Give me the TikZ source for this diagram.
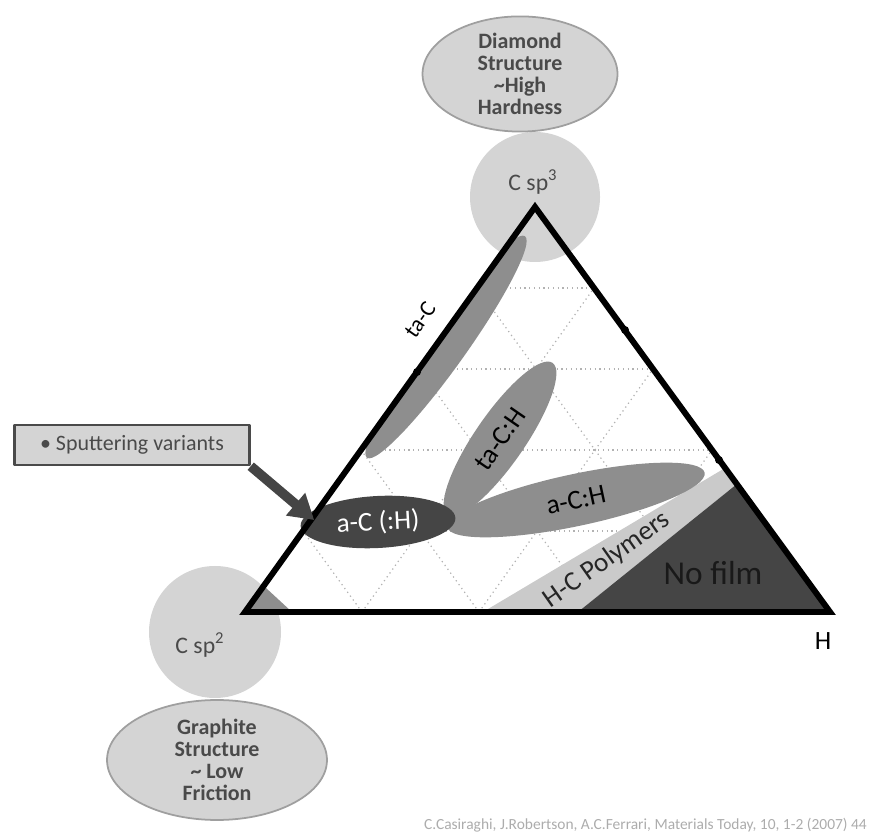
\documentclass[tikz,border=0pt]{standalone}
\usepackage{fontspec}
\setmainfont{Carlito}
\usetikzlibrary{calc,shapes.geometric,arrows.meta}
\definecolor{blobgray}{HTML}{8E8E8E}
\definecolor{lightblob}{HTML}{D4D4D4}
\definecolor{darkblob}{HTML}{454545}
\definecolor{polygray}{HTML}{CACACA}
\definecolor{labelgray}{HTML}{4A4A4A}
\tikzset{
  structure/.style={ellipse, fill=lightblob, draw=gray!75, line width=1pt, align=center,
    minimum width=3.9cm, minimum height=2.16cm, inner sep=0pt, text=labelgray,
    font=\fontsize{12.5}{12.5}\selectfont\bfseries},
  phase/.style={ellipse, fill=blobgray, inner sep=0pt, font=\fontsize{15.5}{15.5}\selectfont},
  sputbox/.style={draw=labelgray, line width=1.4pt, fill=lightblob, minimum width=4.7cm,
    minimum height=0.8cm, text=labelgray, font=\fontsize{12.5}{13}\selectfont}
}
\begin{document}
\begin{tikzpicture}[x=0.02cm, y=0.02cm, line join=round, >=Stealth]
	\useasboundingbox (0,0) rectangle (874,837);
	\coordinate (apex) at (535,630);
	\coordinate (bl) at (245,225);
	\coordinate (br) at (830,225);
	
	% 1. Background circles of the two carbon corners
	\fill[lightblob] (535,640) circle (65);
	\fill[lightblob] (215,205) circle (66);
	\node[text=labelgray, font=\fontsize{13.5}{14}\selectfont] (sp3) at (533,655) {C sp\textsuperscript{3}};
	\node[text=labelgray, font=\fontsize{13.5}{14}\selectfont] (sp2) at (200,192) {C sp\textsuperscript{2}};
	
	% 2. Structure ellipses
	\node[structure] (diamond) at (520,763) {Diamond\\Structure\\\textasciitilde High\\Hardness};
	\node[structure, minimum width=4.4cm, minimum height=2.4cm] (graphite) at (217,77) {Graphite\\Structure\\\textasciitilde{} Low\\Friction};
	
	% 3. Dotted grid inside the triangle
	\foreach \k in {1,...,4}{
		\draw[dotted, gray!60, line width=0.7pt] ($(bl)!\k/5!(apex)$) -- ($(br)!\k/5!(apex)$);
		\draw[dotted, gray!60, line width=0.7pt] ($(bl)!\k/5!(br)$) -- ($(bl)!\k/5!(apex)$);
		\draw[dotted, gray!60, line width=0.7pt] ($(br)!\k/5!(bl)$) -- ($(br)!\k/5!(apex)$);
	}
	
	% 4. Regions clipped to the triangle
	\begin{scope}
		\clip (apex) -- (bl) -- (br) -- cycle;
		% ta-C band along the left side
		\fill[blobgray, rotate around={54.5:(446,490)}] (446,490) ellipse (136 and 20);
		% graphite corner
		\fill[blobgray] (245,225) -- (292,225) -- (266,249) -- cycle;
		% H-C polymers stripe
		\fill[polygray] (483,225) -- (578,225) -- (737,353) -- (725,369) -- cycle;
		% no film corner
		\fill[darkblob] (578,225) -- (737,353) -- (830,225) -- cycle;
	\end{scope}
	
	% 5. Hydrogenated phases
	\node[phase, minimum width=3.7cm, minimum height=1.0cm, rotate=55.4] (taCH) at (500,398) {ta-C:H};
	\node[phase, minimum width=5.26cm, minimum height=1.04cm, rotate=12] (aCH) at (576,337) {a-C:H};
	\node[phase, fill=darkblob, text=white, minimum width=3.1cm, minimum height=1.04cm, rotate=3] (aC) at (378,315) {a-C (:H)};
	
	\node[rotate=35, text=black!85, font=\fontsize{15.5}{15.5}\selectfont] (poly) at (607,277) {H-C Polymers};
	\node[text=black!90, font=\fontsize{19}{19}\selectfont] (nofilm) at (713,264) {No film};
	
	% 6. Triangle outline and edge marks
	\draw[line width=3.4pt, line join=miter] (apex) -- (bl) -- (br) -- cycle;
	\fill (417,465) circle (4);
	\fill (625,507) circle (4);
	\fill (719,377) circle (4);
	
	% 7. Labels
	\node[rotate=55, font=\fontsize{13}{13}\selectfont] (taC) at (420,517) {ta-C};
	\node[font=\fontsize{15}{15}\selectfont] (hydro) at (823,196) {H};
	
	\node[sputbox] (sput) at (132,392) {\textbullet\ Sputtering variants};
	\draw[line width=5.5pt, darkblob, -{Triangle[length=14pt,width=16pt]}] (sput.south east) -- ([shift={(14,6)}]aC.west);
	
	\node[anchor=east, text=gray!65, font=\fontsize{8.8}{9}\selectfont] (cite) at (873,12) {C.Casiraghi, J.Robertson, A.C.Ferrari, Materials Today, 10, 1-2 (2007) 44};
\end{tikzpicture}
\end{document}
